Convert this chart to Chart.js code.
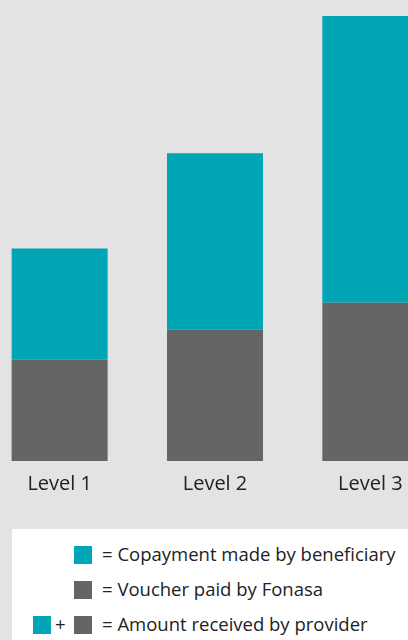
<!DOCTYPE html>
<html>
<head>
<meta charset="utf-8">
<script src="https://cdn.jsdelivr.net/npm/chart.js@4"></script>
<style>
  html, body { margin: 0; padding: 0; }
  body { width: 408px; height: 640px; overflow: hidden; background: #e3e3e5; position: relative; font-family: "Open Sans", Lato, sans-serif; }
  #wrap { position: absolute; left: -18px; top: 0; width: 466px; height: 499px; }
  #legend { position: absolute; left: 12px; top: 529px; width: 396px; height: 111px; background: #fff; color: #222; font-size: 18.5px; }
  .row { position: absolute; left: 0; height: 18px; line-height: 18px; }
  .sq { position: absolute; width: 18px; height: 18px; top: 0; }
  .txt { position: absolute; left: 90px; top: -1px; white-space: nowrap; }
  .plus { position: absolute; left: 43px; top: -1px; }
</style>
</head>
<body>
<div id="wrap"><canvas id="chart"></canvas></div>
<div id="legend">
  <div class="row" style="top:17px"><div class="sq" style="left:62px;background:#00a5b6"></div><span class="txt">= Copayment made by beneficiary</span></div>
  <div class="row" style="top:52px"><div class="sq" style="left:62px;background:#646567"></div><span class="txt">= Voucher paid by Fonasa</span></div>
  <div class="row" style="top:87px"><div class="sq" style="left:21px;background:#00a5b6"></div><span class="plus">+</span><div class="sq" style="left:62px;background:#646567"></div><span class="txt">= Amount received by provider</span></div>
</div>
<script>
// Datos (unidades relativas)
const niveles = ['Level 1', 'Level 2', 'Level 3'];
const bono = [101, 131, 158];
const copago = [111, 176, 286];

const ctx = document.getElementById('chart').getContext('2d');
const grafico = new Chart(ctx, {
    type: 'bar',
    data: {
        labels: niveles,
        datasets: [
            {
                label: 'Voucher paid by Fonasa',
                data: bono,
                backgroundColor: '#646567',
                barPercentage: 0.618,
                categoryPercentage: 1
            },
            {
                label: 'Copayment made by beneficiary',
                data: copago,
                backgroundColor: '#00a5b6',
                barPercentage: 0.618,
                categoryPercentage: 1
            }
        ]
    },
    options: {
        responsive: true,
        maintainAspectRatio: false,
        animation: false,
        layout: { padding: 0 },
        plugins: {
            legend: { display: false },
            tooltip: { enabled: false }
        },
        scales: {
            x: {
                stacked: true,
                grid: { display: false },
                border: { display: false },
                ticks: {
                    color: '#222',
                    padding: 3,
                    font: { family: 'Open Sans', size: 20 }
                }
            },
            y: {
                stacked: true,
                display: false,
                min: 0,
                max: 460
            }
        }
    }
});
</script>
</body>
</html>
